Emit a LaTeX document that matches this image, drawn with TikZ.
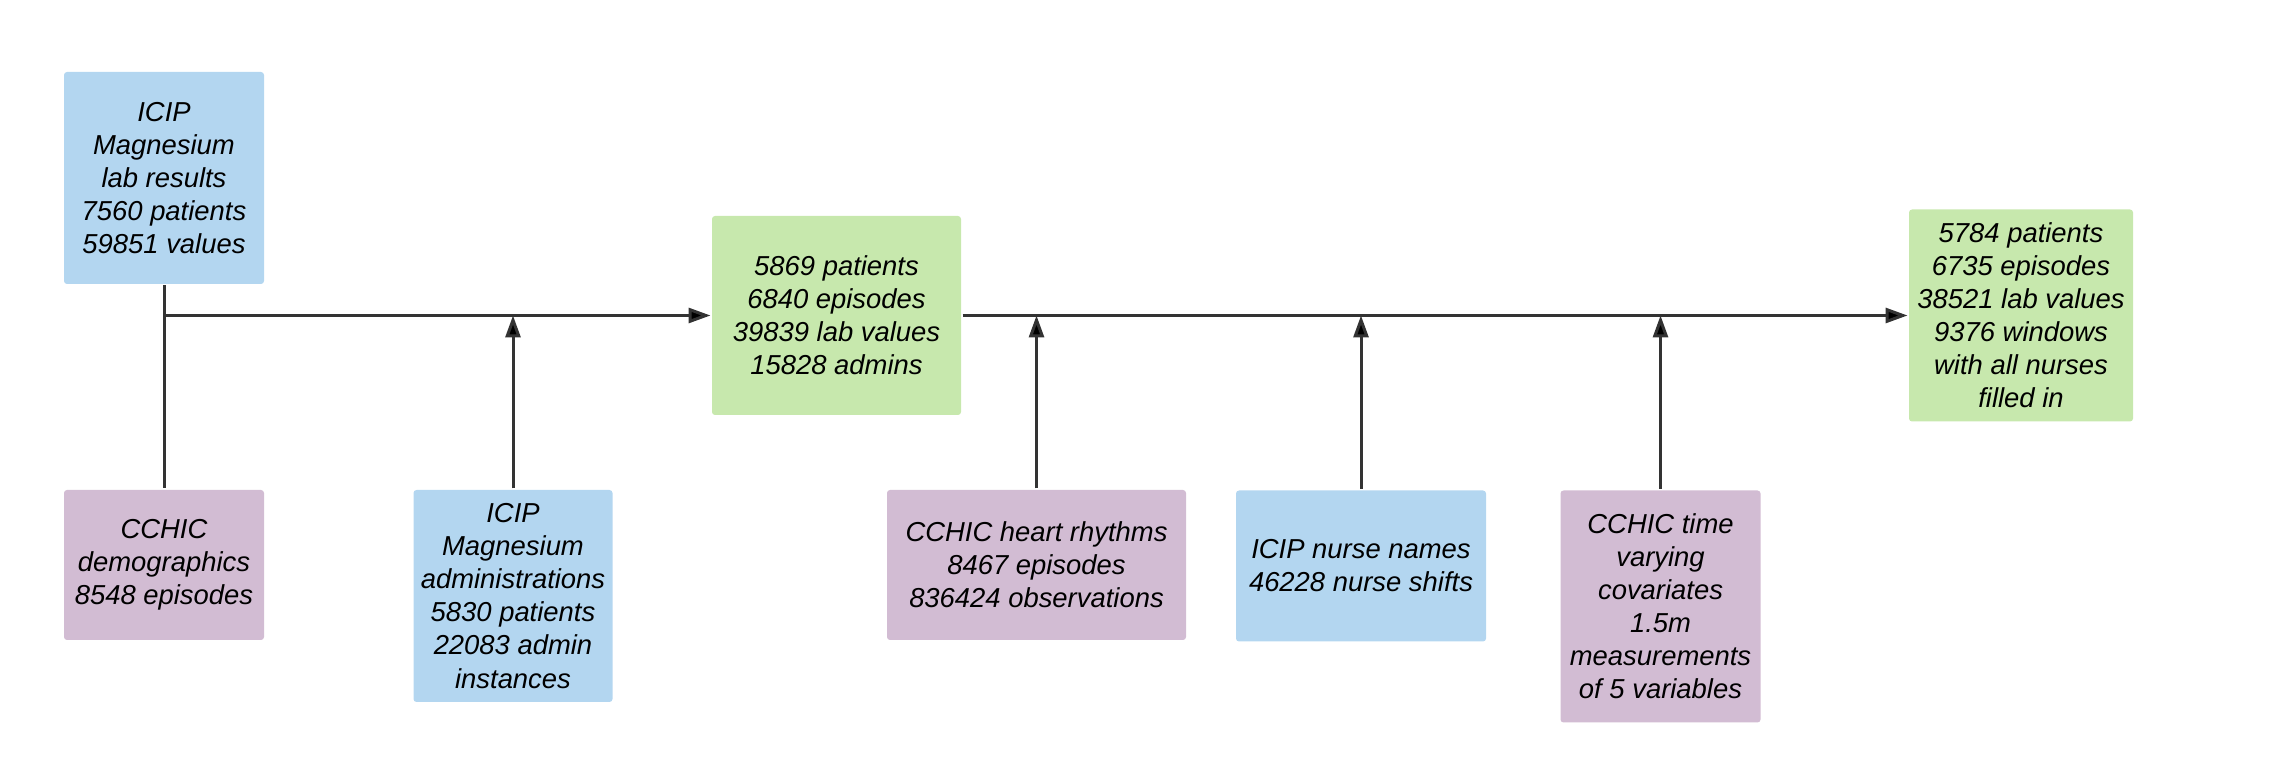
\documentclass[tikz,border=0pt]{standalone}
\usepackage{fontspec}
\setmainfont{Liberation Sans}
\usetikzlibrary{arrows.meta, positioning}
\definecolor{srcblue}{HTML}{B3D6F0}
\definecolor{srcpurple}{HTML}{D2BCD3}
\definecolor{resgreen}{HTML}{C7E8AD}
\definecolor{linegray}{HTML}{333333}

\begin{document}
\begin{tikzpicture}[x=0.1mm,y=-0.1mm,font=\fontsize{7.8}{9.4}\selectfont\itshape,>={Triangle[length=2.2mm,width=1.5mm]},line width=0.3mm]

	\tikzset{node box/.style={rectangle, draw=none, rounded corners=0.3mm,
			inner sep=0pt, align=center, text=black},
		blue box/.style={node box, fill=srcblue},
		purple box/.style={node box, fill=srcpurple},
		green box/.style={node box, fill=resgreen}}

	\useasboundingbox (0,0) rectangle (2270,765);

	\node[blue box, minimum width=20mm, minimum height=21.2mm] (L) at (164,178) {ICIP\\Magnesium\\lab results\\7560 patients\\59851 values};
	\node[purple box, minimum width=20mm, minimum height=15mm] (D) at (164,565) {CCHIC\\demographics\\8548 episodes};
	\node[blue box, minimum width=19.9mm, minimum height=21.2mm] (A) at (513,596) {ICIP\\Magnesium\\administrations\\5830 patients\\22083 admin\\instances};
	\node[green box, minimum width=24.9mm, minimum height=19.9mm] (M) at (836.5,315.5) {5869 patients\\6840 episodes\\39839 lab values\\15828 admins};
	\node[purple box, minimum width=29.9mm, minimum height=15mm] (H) at (1036.5,565) {CCHIC heart rhythms\\8467 episodes\\836424 observations};
	\node[blue box, minimum width=25mm, minimum height=15.1mm] (N) at (1361,566) {ICIP nurse names\\46228 nurse shifts};
	\node[purple box, minimum width=20mm, minimum height=23.2mm] (T) at (1660.5,606.5) {CCHIC time\\varying\\covariates\\1.5m\\measurements\\of 5 variables};
	\node[green box, minimum width=22.4mm, minimum height=21.2mm] (F) at (2021,315.5) {5784 patients\\6735 episodes\\38521 lab values\\9376 windows\\with all nurses\\filled in};

	\coordinate (J1) at (L.south |- M.west);
	\coordinate (JA) at (A.north |- M.west);
	\coordinate (JH) at (H.north |- M.east);
	\coordinate (JN) at (N.north |- M.east);
	\coordinate (JT) at (T.north |- M.east);

	\draw[draw=linegray]
	(L) edge[-] (D)
	(J1) edge[->] (M)
	(A) edge[->] (JA)
	(M) edge[->] (F)
	(H) edge[->] (JH)
	(N) edge[->] (JN)
	(T) edge[->] (JT);

\end{tikzpicture}
\end{document}
